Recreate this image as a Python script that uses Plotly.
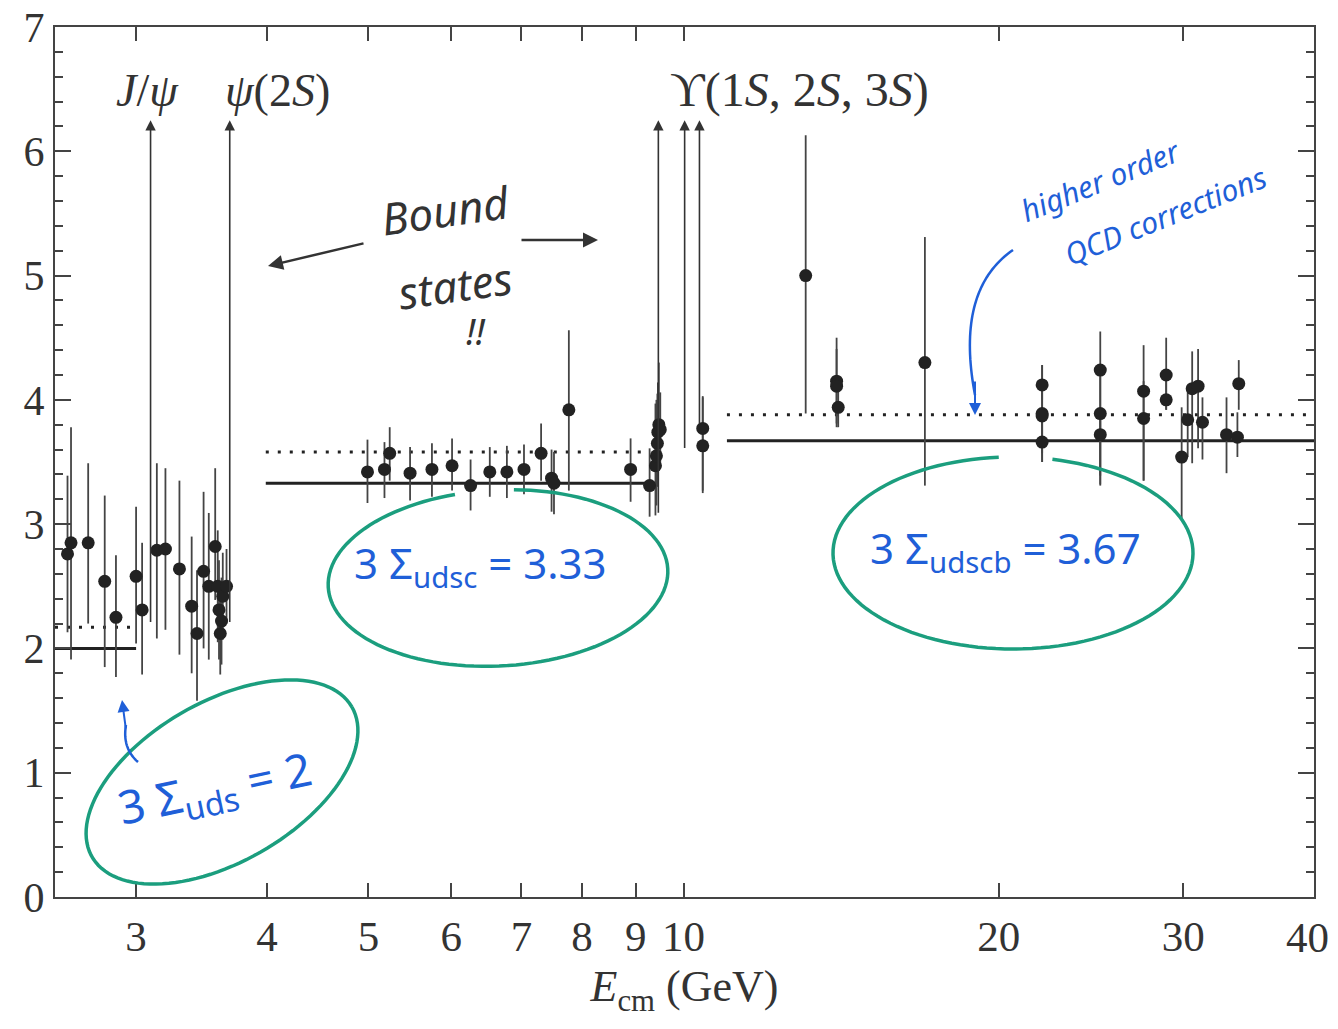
import numpy as np
import plotly.graph_objects as go

# ---------------- data ----------------
# low-energy region (below charm threshold), E in GeV
E_low = [2.58, 2.60, 2.70, 2.80, 2.87, 3.00, 3.04, 3.14, 3.20, 3.30, 3.39, 3.43,
         3.48, 3.52, 3.57, 3.59, 3.60, 3.61, 3.62, 3.63, 3.66]
R_low = [2.76, 2.85, 2.85, 2.54, 2.25, 2.58, 2.31, 2.79, 2.80, 2.64, 2.34, 2.12,
         2.62, 2.50, 2.82, 2.50, 2.31, 2.12, 2.22, 2.42, 2.50]
up_low = [0.63, 0.93, 0.64, 0.69, 0.50, 0.56, 0.54, 0.70, 0.65, 0.71, 0.56, 0.51,
          0.64, 0.59, 0.63, 0.45, 0.40, 0.35, 0.35, 0.35, 0.30]
dn_low = [0.63, 0.94, 0.65, 0.69, 0.48, 0.54, 0.52, 0.71, 0.65, 0.69, 0.54, 0.54,
          0.62, 0.59, 0.43, 0.45, 0.40, 0.33, 0.35, 0.35, 0.30]

# charm region
E_mid = [4.99, 5.18, 5.24, 5.48, 5.75, 6.01, 6.26, 6.53, 6.78, 7.04, 7.31, 7.48,
         7.52, 7.77, 8.90, 9.28, 9.40, 9.42, 9.44, 9.45, 9.47, 9.50, 10.43, 10.43]
R_mid = [3.42, 3.44, 3.57, 3.41, 3.44, 3.47, 3.31, 3.42, 3.42, 3.44, 3.57, 3.37,
         3.33, 3.92, 3.44, 3.31, 3.47, 3.55, 3.65, 3.74, 3.80, 3.76, 3.77, 3.63]
up_mid = [0.26, 0.22, 0.21, 0.21, 0.21, 0.22, 0.21, 0.20, 0.21, 0.20, 0.24, 0.23,
          0.25, 0.64, 0.25, 0.30, 0.50, 0.45, 0.40, 0.40, 0.50, 0.30, 0.25, 0.40]
dn_mid = [0.25, 0.23, 0.22, 0.22, 0.22, 0.20, 0.20, 0.20, 0.21, 0.20, 0.22, 0.27,
          0.25, 0.65, 0.26, 0.25, 0.40, 0.40, 0.35, 0.35, 0.30, 0.30, 0.50, 0.38]

# bottom region
E_high = [13.08, 14.0, 14.0, 14.05, 17.0, 22.0, 22.0, 22.0, 22.0, 25.0, 25.0, 25.0,
          27.5, 27.5, 28.9, 28.9, 29.9, 30.3, 30.6, 31.0, 31.3, 33.0, 33.8, 33.9]
R_high = [5.00, 4.15, 4.11, 3.94, 4.30, 4.12, 3.89, 3.87, 3.66, 4.24, 3.89, 3.72,
          4.07, 3.85, 4.20, 4.00, 3.54, 3.84, 4.09, 4.11, 3.82, 3.72, 3.70, 4.13]
up_high = [1.13, 0.35, 0.30, 0.20, 1.01, 0.16, 0.39, 0.30, 0.20, 0.31, 0.30, 0.20,
           0.37, 0.30, 0.30, 0.20, 0.40, 0.25, 0.30, 0.30, 0.20, 0.30, 0.20, 0.19]
dn_high = [1.11, 0.37, 0.30, 0.16, 0.99, 0.12, 0.39, 0.30, 0.16, 0.93, 0.50, 0.40,
           0.72, 0.50, 0.28, 0.08, 0.51, 0.30, 0.60, 0.50, 0.30, 0.31, 0.16, 0.21]

# parton-model predictions: (E_start, E_end, R)
lo_span = [2.51, 3.0]
mid_span = [3.99, 9.4]
hi_span = [11.0, 40.0]
R_parton = [2.0, 3.33, 3.67]          # solid
R_qcd = [2.17, 3.58, 3.88]            # dotted
dot_end = [2.98, 9.2, 40.0]

# resonances (arrows)
res_E = [3.097, 3.686, 9.46, 10.023, 10.355]
res_bottom = [2.2, 2.2, 3.08, 3.6, 3.8]
res_top = 6.25

xticks = [3, 4, 5, 6, 7, 8, 9, 10, 20, 30, 40]
xtick_text = ["3", "4", "5", "6", "7", "8", "9", "10", "20", "30", "40"]

# ---------------- figure ----------------
OFF = 8  # default page body margin
W, H = 1338 - 2 * OFF, 1029 - 2 * OFF
X0, X1, Y0, Y1 = 55, 1314, 27, 897     # plot box in screenshot pixels
L, T = X0 - OFF, Y0 - OFF
R_, B = W - (X1 - OFF), H - (Y1 - OFF)
PW, PH = X1 - X0, Y1 - Y0


def px2paper(x, y):
    return (x - X0) / PW, (Y1 - y) / PH


fig = go.Figure()

SERIF = "Liberation Serif"
TEAL = "#1b9e7e"
BLUE = "#1f5fd8"

# prediction lines
spans = [lo_span, mid_span, hi_span]
for sp, rp, rq, de in zip(spans, R_parton, R_qcd, dot_end):
    fig.add_trace(go.Scatter(x=sp, y=[rp, rp], mode="lines",
                             line=dict(color="#222", width=3), showlegend=False,
                             hoverinfo="skip"))
    fig.add_trace(go.Scatter(x=[sp[0], de], y=[rq, rq], mode="lines",
                             line=dict(color="#222", width=3, dash="3px,9px"),
                             showlegend=False, hoverinfo="skip"))

# data points
for E, Rv, up, dn in [(E_low, R_low, up_low, dn_low),
                      (E_mid, R_mid, up_mid, dn_mid),
                      (E_high, R_high, up_high, dn_high)]:
    fig.add_trace(go.Scatter(
        x=E, y=Rv, mode="markers",
        marker=dict(color="#222", size=13),
        error_y=dict(type="data", symmetric=False, array=up, arrayminus=dn,
                     color="#444", thickness=1.8, width=0),
        showlegend=False))

annotations = []
# resonance arrows
for e, b in zip(res_E, res_bottom):
    annotations.append(dict(x=np.log10(e), y=res_top, ax=np.log10(e), ay=b,
                            xref="x", yref="y", axref="x", ayref="y",
                            showarrow=True, arrowhead=2, arrowsize=1.3,
                            arrowwidth=1.6, arrowcolor="#333", text=""))


def paper_text(x, y, text, size, color="#333", family=SERIF, angle=0, xanchor="center"):
    px, py = px2paper(x, y)
    annotations.append(dict(x=px, y=py, xref="paper", yref="paper", text=text,
                            showarrow=False, textangle=angle, xanchor=xanchor,
                            yanchor="middle",
                            font=dict(family=family, size=size, color=color)))

# last x tick label drawn right-aligned so it stays inside the page
shown_ticktext = xtick_text[:-1] + [""]
paper_text(1331, 938, xtick_text[-1], 43, xanchor="right")

# resonance labels
paper_text(147, 90, "<i>J</i>/<i>ψ</i>", 46)
paper_text(277, 90, "<i>ψ</i>(2<i>S</i>)", 46)
paper_text(800, 90, "ϒ(1<i>S</i>, 2<i>S</i>, 3<i>S</i>)", 48)

# handwritten annotations
HAND = "Noto Sans"
paper_text(215, 790, "3 Σ<sub>uds</sub> = 2", 46, BLUE, HAND, angle=-12)
paper_text(480, 565, "3 Σ<sub>udsc</sub> = 3.33", 42, BLUE, HAND)
paper_text(1005, 550, "3 Σ<sub>udscb</sub> = 3.67", 42, BLUE, HAND)
paper_text(1100, 180, "<i>higher order</i>", 30, BLUE, HAND, angle=-22)
paper_text(1165, 215, "<i>QCD corrections</i>", 30, BLUE, HAND, angle=-22)
paper_text(445, 210, "<i>Bound</i>", 44, "#333", HAND, angle=-8)
paper_text(455, 285, "<i>states</i>", 44, "#333", HAND, angle=-8)
paper_text(475, 332, "<i>!!</i>", 36, "#333", HAND)


def paper_arrow(x0, y0, x1, y1, color, width=2.5, head=2):
    tx, ty = px2paper(x1, y1)
    annotations.append(dict(x=tx, y=ty, xref="paper", yref="paper",
                            ax=x0 - x1, ay=y0 - y1, axref="pixel", ayref="pixel",
                            showarrow=True, arrowhead=head, arrowsize=1.2,
                            arrowwidth=width, arrowcolor=color, text=""))

paper_arrow(365, 243, 268, 266, "#333")
paper_arrow(520, 240, 598, 240, "#333")
paper_arrow(975, 380, 975, 415, BLUE, 2)
paper_arrow(126, 730, 122, 700, BLUE, 2)

shapes = []


def ellipse(cx, cy, a, b, ang, color, t0=0.0, t1=2 * np.pi, width=3.5):
    t = np.linspace(t0, t1, 120)
    c, s = np.cos(np.radians(ang)), np.sin(np.radians(ang))
    xs = cx + a * np.cos(t) * c - b * np.sin(t) * s
    ys = cy + a * np.cos(t) * s + b * np.sin(t) * c
    pts = [px2paper(x, y) for x, y in zip(xs, ys)]
    path = "M " + " L ".join(f"{x:.5f},{y:.5f}" for x, y in pts)
    shapes.append(dict(type="path", path=path, xref="paper", yref="paper",
                       line=dict(color=color, width=width)))

ellipse(222, 782, 150, 80, -30, TEAL)
ellipse(498, 578, 170, 88, -3, TEAL, t0=-1.45, t1=-1.45 + 2 * np.pi - 0.35)
ellipse(1013, 553, 180, 96, 0, TEAL, t0=-1.35, t1=-1.35 + 2 * np.pi - 0.3)


def curve(p0, p1, p2, color, width=2.5):
    t = np.linspace(0, 1, 40)
    xs = (1 - t) ** 2 * p0[0] + 2 * (1 - t) * t * p1[0] + t ** 2 * p2[0]
    ys = (1 - t) ** 2 * p0[1] + 2 * (1 - t) * t * p1[1] + t ** 2 * p2[1]
    pts = [px2paper(x, y) for x, y in zip(xs, ys)]
    path = "M " + " L ".join(f"{x:.5f},{y:.5f}" for x, y in pts)
    shapes.append(dict(type="path", path=path, xref="paper", yref="paper",
                       line=dict(color=color, width=width)))

curve((1013, 250), (955, 290), (975, 395), BLUE)
curve((138, 762), (122, 748), (126, 725), BLUE)

fig.update_layout(
    width=W, height=H,
    margin=dict(l=L, r=R_, t=T, b=B, autoexpand=False),
    paper_bgcolor="white", plot_bgcolor="white",
    annotations=annotations, shapes=shapes,
    font=dict(family=SERIF, color="#333"),
    xaxis=dict(type="log", range=[np.log10(2.51), np.log10(40)],
               tickvals=xticks, ticktext=shown_ticktext, automargin=False,
               ticklabeloverflow="allow",
               ticks="inside", ticklen=14, tickwidth=1.5, tickcolor="#444",
               showline=True, linecolor="#444", linewidth=2, mirror="ticks",
               showgrid=False, zeroline=False,
               tickfont=dict(family=SERIF, size=43, color="#333"),
               title=dict(text="<i>E</i><sub>cm</sub> (GeV)", standoff=12,
                          font=dict(family=SERIF, size=44, color="#333"))),
    yaxis=dict(range=[0, 7], tickvals=list(range(0, 8)), automargin=False,
               ticklabeloverflow="allow",
               ticks="inside", ticklen=16, tickwidth=1.5, tickcolor="#444",
               minor=dict(dtick=0.2, ticks="inside", ticklen=8, tickcolor="#444"),
               showline=True, linecolor="#444", linewidth=2, mirror="ticks",
               showgrid=False, zeroline=False,
               tickfont=dict(family=SERIF, size=42, color="#333")),
)

fig.write_html("out.html")
